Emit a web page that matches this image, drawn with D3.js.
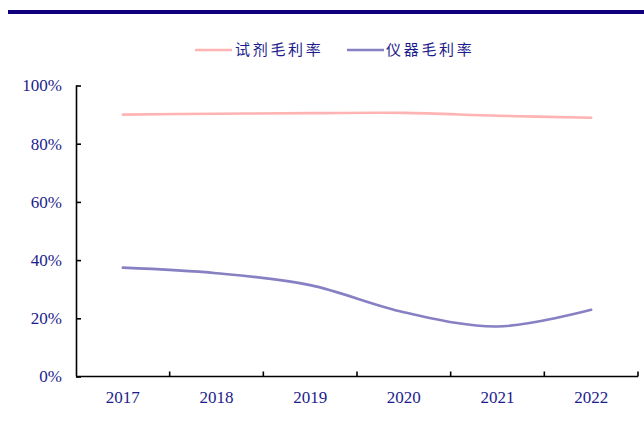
<!DOCTYPE html>
<html>
<head>
<meta charset="utf-8">
<script src="https://cdn.jsdelivr.net/npm/d3@7"></script>
<style>
  html, body { margin: 0; padding: 0; background: #fff; }
  svg { display: block; }
</style>
</head>
<body>
<svg id="chart" width="644" height="426"></svg>
<script>
// Gross margin by year, in percent
const years = ["2017", "2018", "2019", "2020", "2021", "2022"];
const reagentMargin = [90.0, 90.3, 90.5, 90.6, 89.6, 88.9];
const instrumentMargin = [37.4, 35.5, 31.4, 22.1, 17.2, 22.9];
const seriesNames = ["试剂毛利率", "仪器毛利率"];
const yTicks = [0, 20, 40, 60, 80, 100];

const svg = d3.select("#chart");
const W = 644, H = 426;
const margin = { left: 76, right: 6, top: 85.5, bottom: 49.5 };
const textColor = "#1c1c8c";
const colors = ["#ffb3b3", "#8780c2"];

// header rule
svg.append("rect")
  .attr("x", 8).attr("y", 10)
  .attr("width", W - 8).attr("height", 4)
  .attr("fill", "#10007e");

const x = d3.scaleBand()
  .domain(years)
  .range([margin.left, W - margin.right]);

const y = d3.scaleLinear()
  .domain([0, 100])
  .range([H - margin.bottom, margin.top]);

// y axis: ticks point inward
const yAxis = svg.append("g")
  .attr("transform", `translate(${margin.left},0)`)
  .call(d3.axisRight(y).tickValues(yTicks).tickSize(5).tickFormat(""));
yAxis.select(".domain").attr("stroke", "#000").attr("stroke-width", 1.6)
  .attr("d", `M0.5,${y(0)}V${y(100)}`);
yAxis.selectAll(".tick line").attr("stroke", "#000").attr("stroke-width", 1.6);

svg.append("g").selectAll("text")
  .data(yTicks)
  .join("text")
  .attr("x", 62)
  .attr("y", d => y(d))
  .attr("dy", "0.35em")
  .attr("text-anchor", "end")
  .attr("font-family", "'Liberation Serif', 'Times New Roman', serif")
  .attr("font-size", 17)
  .attr("fill", textColor)
  .text(d => d + "%");

// x axis: ticks at category boundaries, pointing up
const boundaries = years.map(d => x(d) + x.bandwidth());
const xAxis = svg.append("g")
  .attr("transform", `translate(0,${y(0)})`);
xAxis.append("line")
  .attr("x1", margin.left).attr("x2", W - margin.right)
  .attr("y1", 0).attr("y2", 0)
  .attr("stroke", "#000").attr("stroke-width", 1.6);
xAxis.selectAll("line.tick")
  .data(boundaries)
  .join("line")
  .attr("class", "tick")
  .attr("x1", d => d).attr("x2", d => d)
  .attr("y1", 0).attr("y2", -5)
  .attr("stroke", "#000").attr("stroke-width", 1.6);
xAxis.selectAll("text")
  .data(years)
  .join("text")
  .attr("x", d => x(d) + x.bandwidth() / 2)
  .attr("y", 26.5)
  .attr("text-anchor", "middle")
  .attr("font-family", "'Liberation Serif', 'Times New Roman', serif")
  .attr("font-size", 17)
  .attr("fill", textColor)
  .text(d => d);

// smoothed lines
const line = d3.line()
  .x((d, i) => x(years[i]) + x.bandwidth() / 2)
  .y(d => y(d))
  .curve(d3.curveCatmullRom.alpha(0));

[reagentMargin, instrumentMargin].forEach((vals, i) => {
  svg.append("path")
    .datum(vals)
    .attr("d", line)
    .attr("fill", "none")
    .attr("stroke", colors[i])
    .attr("stroke-width", 2.6)
    .attr("stroke-linecap", "round");
});

// legend
const legendItems = [
  { name: seriesNames[0], color: colors[0], x0: 195, x1: 232, tx: 235 },
  { name: seriesNames[1], color: colors[1], x0: 347, x1: 384, tx: 386 }
];
const legend = svg.append("g");
legendItems.forEach(it => {
  legend.append("line")
    .attr("x1", it.x0).attr("x2", it.x1)
    .attr("y1", 50).attr("y2", 50)
    .attr("stroke", it.color).attr("stroke-width", 2.6);
  legend.append("text")
    .attr("x", it.tx).attr("y", 50)
    .attr("dy", "0.35em")
    .attr("font-family", "'Noto Sans CJK SC', sans-serif")
    .attr("font-size", 15)
    .attr("letter-spacing", 2.7)
    .attr("fill", textColor)
    .text(it.name);
});
</script>
</body>
</html>
